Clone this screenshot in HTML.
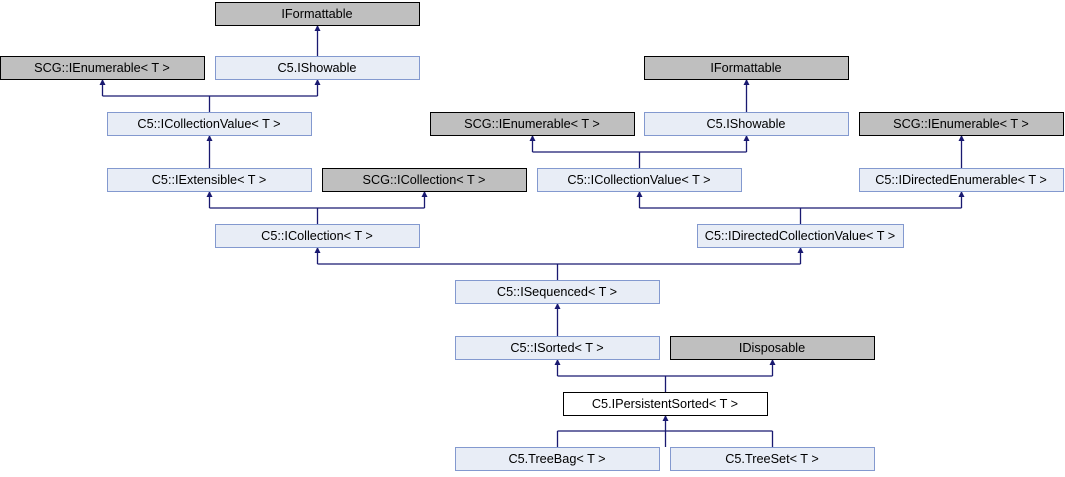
<!DOCTYPE html>
<html><head><meta charset="utf-8"><style>
body{margin:0;background:#fff;}
svg text{font-family:"Liberation Sans",Arial,sans-serif;font-size:12.7px;text-anchor:middle;}
</style></head><body>
<svg width="1065" height="472" xmlns="http://www.w3.org/2000/svg">
<g fill="none" stroke="#191970" stroke-width="1.3">
<path d="M317.5 56 V26"/>
<path d="M209.5 112 V96 M102.5 96 H317.5 M102.5 96 V80 M317.5 96 V80"/>
<path d="M209.5 168 V136"/>
<path d="M317.5 224 V208 M209.5 208 H424.5 M209.5 208 V192 M424.5 208 V192"/>
<path d="M746.5 112 V80"/>
<path d="M639.5 168 V152 M532.5 152 H746.5 M532.5 152 V136 M746.5 152 V136"/>
<path d="M961.5 168 V136"/>
<path d="M800.5 224 V208 M639.5 208 H961.5 M639.5 208 V192 M961.5 208 V192"/>
<path d="M557.5 280 V264 M317.5 264 H800.5 M317.5 264 V248 M800.5 264 V248"/>
<path d="M557.5 336 V304"/>
<path d="M665.5 392 V376 M557.5 376 H772.5 M557.5 376 V360 M772.5 376 V360"/>
<path d="M665.5 447 V431 M557.5 431 H772.5 M557.5 431 V447 M772.5 431 V447 M665.5 431 V416"/>
</g>
<g fill="#191970">
<path d="M314.5 31 L317.5 25 L320.5 31 Z"/>
<path d="M99.5 85 L102.5 79 L105.5 85 Z"/><path d="M314.5 85 L317.5 79 L320.5 85 Z"/>
<path d="M206.5 141 L209.5 135 L212.5 141 Z"/>
<path d="M206.5 197 L209.5 191 L212.5 197 Z"/><path d="M421.5 197 L424.5 191 L427.5 197 Z"/>
<path d="M743.5 85 L746.5 79 L749.5 85 Z"/>
<path d="M529.5 141 L532.5 135 L535.5 141 Z"/><path d="M743.5 141 L746.5 135 L749.5 141 Z"/>
<path d="M958.5 141 L961.5 135 L964.5 141 Z"/>
<path d="M636.5 197 L639.5 191 L642.5 197 Z"/><path d="M958.5 197 L961.5 191 L964.5 197 Z"/>
<path d="M314.5 253 L317.5 247 L320.5 253 Z"/><path d="M797.5 253 L800.5 247 L803.5 253 Z"/>
<path d="M554.5 309 L557.5 303 L560.5 309 Z"/>
<path d="M554.5 365 L557.5 359 L560.5 365 Z"/><path d="M769.5 365 L772.5 359 L775.5 365 Z"/>
<path d="M662.5 421 L665.5 415 L668.5 421 Z"/>
</g>
<g stroke-width="1">
<g fill="#bfbfbf" stroke="#000">
<rect x="215.5" y="2.5" width="204" height="23"/>
<rect x="0.5" y="56.5" width="204" height="23"/>
<rect x="644.5" y="56.5" width="204" height="23"/>
<rect x="430.5" y="112.5" width="204" height="23"/>
<rect x="859.5" y="112.5" width="204" height="23"/>
<rect x="322.5" y="168.5" width="204" height="23"/>
<rect x="670.5" y="336.5" width="204" height="23"/>
</g>
<g fill="#e8edf6" stroke="#8399cf">
<rect x="215.5" y="56.5" width="204" height="23"/>
<rect x="107.5" y="112.5" width="204" height="23"/>
<rect x="644.5" y="112.5" width="204" height="23"/>
<rect x="107.5" y="168.5" width="204" height="23"/>
<rect x="537.5" y="168.5" width="204" height="23"/>
<rect x="859.5" y="168.5" width="204" height="23"/>
<rect x="215.5" y="224.5" width="204" height="23"/>
<rect x="697.5" y="224.5" width="206" height="23"/>
<rect x="455.5" y="280.5" width="204" height="23"/>
<rect x="455.5" y="336.5" width="204" height="23"/>
<rect x="455.5" y="447.5" width="204" height="23"/>
<rect x="670.5" y="447.5" width="204" height="23"/>
</g>
<rect x="563.5" y="392.5" width="204" height="23" fill="#fff" stroke="#000"/>
</g>
<g fill="#000">
<text x="317" y="18">IFormattable</text>
<text x="102" y="72">SCG::IEnumerable&lt; T &gt;</text>
<text x="317" y="72">C5.IShowable</text>
<text x="746" y="72">IFormattable</text>
<text x="209" y="128">C5::ICollectionValue&lt; T &gt;</text>
<text x="532" y="128">SCG::IEnumerable&lt; T &gt;</text>
<text x="746" y="128">C5.IShowable</text>
<text x="961" y="128">SCG::IEnumerable&lt; T &gt;</text>
<text x="209" y="184">C5::IExtensible&lt; T &gt;</text>
<text x="424" y="184">SCG::ICollection&lt; T &gt;</text>
<text x="639" y="184">C5::ICollectionValue&lt; T &gt;</text>
<text x="961" y="184">C5::IDirectedEnumerable&lt; T &gt;</text>
<text x="317" y="240">C5::ICollection&lt; T &gt;</text>
<text x="800" y="240">C5::IDirectedCollectionValue&lt; T &gt;</text>
<text x="557" y="296">C5::ISequenced&lt; T &gt;</text>
<text x="557" y="352">C5::ISorted&lt; T &gt;</text>
<text x="772" y="352">IDisposable</text>
<text x="665" y="408">C5.IPersistentSorted&lt; T &gt;</text>
<text x="557" y="463">C5.TreeBag&lt; T &gt;</text>
<text x="772" y="463">C5.TreeSet&lt; T &gt;</text>
</g>
</svg>
</body></html>
